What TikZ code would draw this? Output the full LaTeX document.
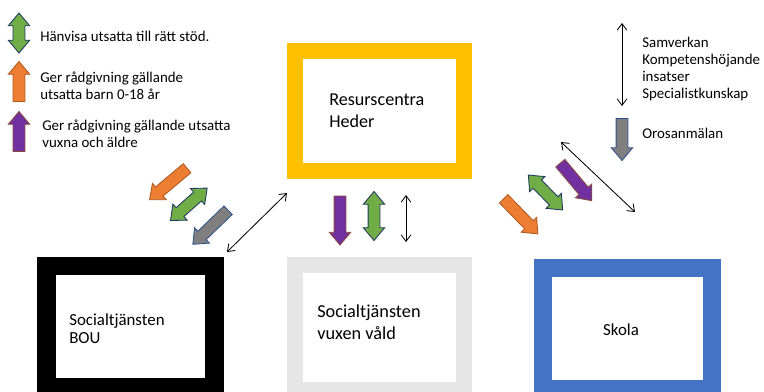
\documentclass[tikz,border=0pt]{standalone}
\usepackage{amsmath,amssymb}
\usepackage{fontspec}
\setmainfont{Carlito}
\usepackage{tikz}
\usetikzlibrary{shapes.arrows,arrows.meta}

\definecolor{heder}{HTML}{FFC000}
\definecolor{vuxen}{HTML}{E6E6E6}
\definecolor{skola}{HTML}{4472C4}
\definecolor{skolakant}{HTML}{2F528F}
\definecolor{pilorange}{HTML}{ED7D31}
\definecolor{kantorange}{HTML}{AE5A21}
\definecolor{pilgron}{HTML}{70AD47}
\definecolor{kantgron}{HTML}{1F3864}
\definecolor{pillila}{HTML}{7030A0}
\definecolor{kantlila}{HTML}{8E4B3C}
\definecolor{pilgra}{HTML}{7F7F7F}
\definecolor{kantgra}{HTML}{2F528F}

\tikzset{
  ruta/.style={draw, inner sep=0pt, minimum width=4.225cm, minimum height=3cm},
  tx/.style={inner sep=0pt, font=\fontsize{10.6}{12.2}\selectfont},
  rutatx/.style={inner sep=0pt, align=left},
  blockpil/.style={draw, line width=0.6pt, inner sep=0pt, inner ysep=0.1375cm, minimum width=0pt, minimum height=1.225cm},
  enkelpil/.style={blockpil, single arrow, single arrow head extend=0.12cm, single arrow tip angle=80},
  dubbelpil/.style={blockpil, double arrow, double arrow head extend=0.12cm, double arrow tip angle=80},
  orangepil/.style={fill=pilorange, draw=kantorange},
  gronpil/.style={fill=pilgron, draw=kantgron},
  lilapil/.style={fill=pillila, draw=kantlila},
  grapil/.style={fill=pilgra, draw=kantgra},
  tunn/.style={{Straight Barb[length=1.6mm,width=2.4mm]}-{Straight Barb[length=1.6mm,width=2.4mm]}, line width=0.6pt}
}

\begin{document}
\begin{tikzpicture}[x=0.025cm, y=-0.025cm]
\useasboundingbox (0,0) rectangle (764,391);

% rutorna
\node[ruta, draw=heder, line width=0.4cm] (heder) at (379.5,111) {};
\node[ruta, draw=black, line width=0.4625cm, minimum width=4.2cm, minimum height=3.025cm] (bou) at (130.5,326.75) {};
\node[ruta, draw=vuxen, line width=0.4125cm, minimum width=4.2125cm, minimum height=3.125cm] (vuxen) at (379.5,327.75) {};
\node[ruta, draw=skolakant, line width=0.4pt, double=skola, double distance=0.436cm, minimum height=3.025cm] (skola) at (627.5,328.5) {};

\node[rutatx, anchor=west, font=\fontsize{12.9}{15.8}\selectfont] (hedertext) at (329,111) {Resurscentra\\Heder};
\node[rutatx, anchor=west, font=\fontsize{12}{12.9}\selectfont] (boutext) at (69,329) {Socialtjänsten\\BOU};
\node[rutatx, anchor=west, font=\fontsize{13}{15.4}\selectfont] (vuxentext) at (317,322.5) {Socialtjänsten\\vuxen våld};
\node[rutatx, anchor=base, font=\fontsize{12}{14}\selectfont] (skolatext) at (621,335.7) {Skola};

%-------------------------------------
% teckenförklaring
\node[dubbelpil, gronpil, rotate=90, minimum height=1cm] (lgron) at (19,33) {};
\node[enkelpil, orangepil, rotate=90, minimum height=1cm] (lorange) at (19,85) {};
\node[enkelpil, lilapil, rotate=90, minimum height=1cm] (llila) at (19,135) {};

\node[tx, anchor=base west] (hanvisa) at (40,41.7) {Hänvisa utsatta till rätt stöd.};
\node[tx, anchor=west, align=left] (barn) at (40,86) {Ger rådgivning gällande\\utsatta barn 0-18 år};
\node[tx, anchor=west, align=left] (vuxna) at (42,133.4) {Ger rådgivning gällande utsatta\\vuxna och äldre};

\coordinate (ltopp) at (622,23);
\coordinate (lbotten) at (622,106);
\draw[tunn] (ltopp) -- (lbotten);
\node[enkelpil, grapil, rotate=-90, minimum height=1.05cm] (loros) at (622,136) {};
\node[tx, anchor=west, align=left, font=\fontsize{10.6}{12.3}\selectfont] (samverkan) at (642,69) {Samverkan\\Kompetenshöjande\\insatser\\Specialistkunskap};
\node[tx, anchor=base west] (oros) at (642,138.3) {Orosanmälan};

%-------------------------------------
% pilar mot BOU
\node[enkelpil, orangepil, rotate=220] (bouorange) at (171,181.7) {};
\node[dubbelpil, gronpil, rotate=41.5] (bougron) at (188.8,204.3) {};
\node[enkelpil, grapil, rotate=224] (bougra) at (213,224.8) {};
\coordinate (hederbou) at (287,193);
\coordinate (bouheder) at (227,252);
\draw[tunn] (bouheder) -- (hederbou);

% pilar mot vuxen
\node[enkelpil, lilapil, rotate=-90] (vuxenlila) at (340,217) {};
\node[dubbelpil, gronpil, rotate=90] (vuxengron) at (374,216) {};
\coordinate (hedervuxen) at (406,195);
\coordinate (vuxenheder) at (406,242);
\draw[tunn] (hedervuxen) -- (vuxenheder);

% pilar mot skola
\node[enkelpil, orangepil, rotate=-45.8] (skolaorange) at (518.3,213.8) {};
\node[dubbelpil, gronpil, rotate=-45.5] (skolagron) at (545.5,192.5) {};
\node[enkelpil, lilapil, rotate=-50] (skolalila) at (573.8,179.2) {};
\coordinate (hederskola) at (561,142);
\coordinate (skolaheder) at (635,212);
\draw[tunn] (hederskola) -- (skolaheder);
\end{tikzpicture}
\end{document}
